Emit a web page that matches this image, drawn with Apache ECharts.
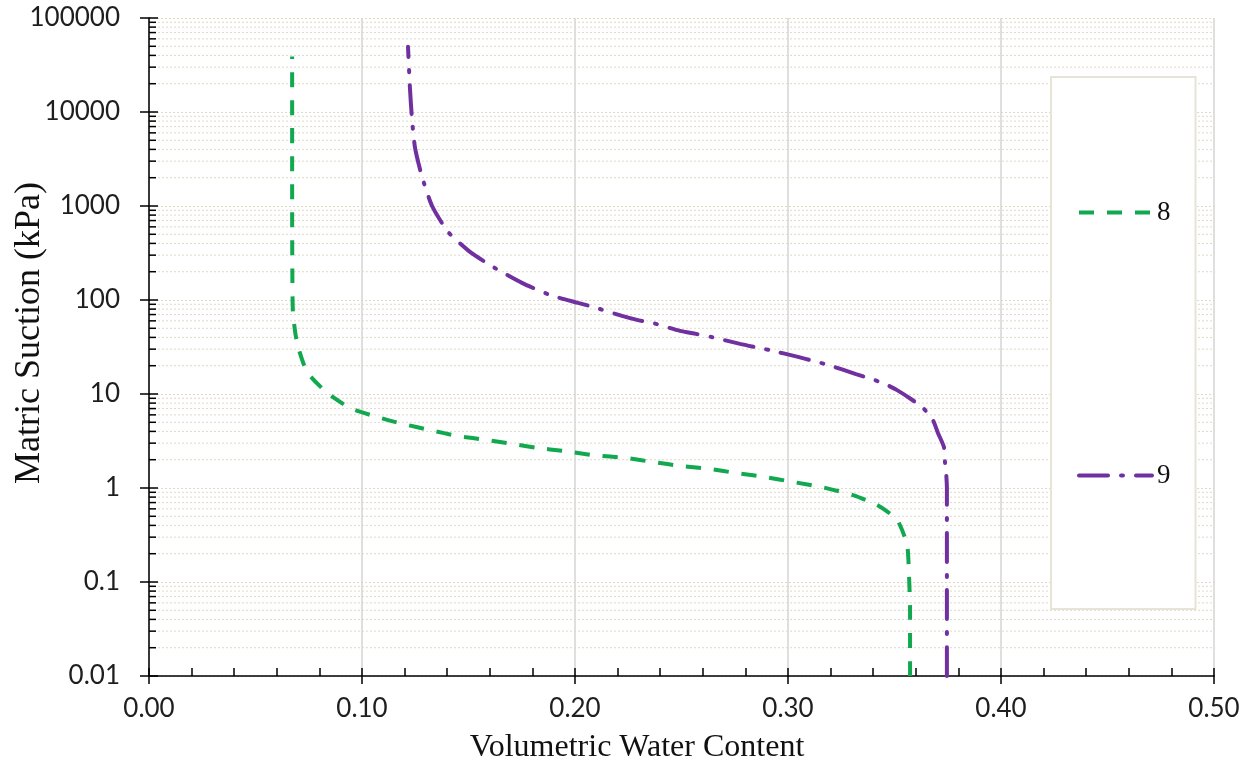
<!DOCTYPE html>
<html>
<head>
<meta charset="utf-8">
<script src="https://cdn.jsdelivr.net/npm/echarts@6/dist/echarts.min.js"></script>
<style>
html,body{margin:0;padding:0;background:#fff;}
#chart{width:1252px;height:767px;}
</style>
</head>
<body>
<div id="chart"></div>
<script>
// ---- data ----
const seriesNames = ['8', '9'];
const wc8  = [0.3573,0.3573,0.3568,0.3559,0.3512,0.3418,0.3305,0.316,0.3023,0.2892,0.276,0.2634,0.2502,0.2366,0.2244,0.2085,0.1944,0.1822,0.1709,0.1587,0.1451,0.1319,0.1192,0.107,0.0944,0.0836,0.0742,0.0695,0.0676,0.0673,0.0672,0.0672,0.0672];
const psi8 = [0.01,0.05,0.12,0.25,0.46,0.66,0.84,1.02,1.16,1.31,1.44,1.59,1.71,1.89,2.08,2.24,2.48,2.67,2.94,3.24,3.57,4.14,4.8,5.7,7.1,10.3,17.2,34.9,72.8,200,1000,10000,39000];
const wc9  = [0.3746,0.3746,0.3746,0.3742,0.3737,0.3732,0.3704,0.368,0.3634,0.3577,0.3512,0.3455,0.339,0.3319,0.3188,0.3117,0.3047,0.2911,0.284,0.2775,0.2638,0.2568,0.2493,0.2362,0.2291,0.2221,0.2085,0.2014,0.1883,0.1751,0.1624,0.1507,0.1404,0.1329,0.1282,0.1249,0.1235,0.1225,0.1216];
const psi9 = [0.01,0.1,1.0,1.5,1.89,2.73,3.85,5.3,7.1,8.85,11.0,12.8,14.5,16.3,20.4,22.5,24.8,29.4,31.7,34.1,40.5,43.6,46.9,57.1,61.4,67.7,84.4,93.1,113,152,219,325,531,1000,2040,4160,8260,18100,49400];
const decades = [0.01, 0.1, 1, 10, 100, 1000, 10000];
const minorMultipliers = [2,3,4,5,6,7,8,9];
const xTitle = 'Volumetric Water Content';
const yTitle = 'Matric Suction (kPa)';

// ---- build ----
const pairs = (xs, ys) => xs.map((x, i) => [x, ys[i]]);
const minorValues = [];
decades.forEach(d => minorMultipliers.forEach(m => minorValues.push([0, +(d * m).toPrecision(3)])));

const chart = echarts.init(document.getElementById('chart'), null, {renderer: 'canvas'});
const GREEN = '#12A84F', PURPLE = '#7030A0';
const GRIDDOT = '#dedac6';
const labelFont = {fontFamily: 'Lato', fontSize: 26, color: '#1e1e1e'};
const yFmt = v => String(Number((+v).toPrecision(3)));

const option = {
  animation: false,
  backgroundColor: '#fff',
  grid: {left: 149, right: 38, top: 18, bottom: 91, containLabel: false},
  xAxis: [{
    type: 'value', min: 0, max: 0.5, interval: 0.1,
    axisLine: {show: true, onZero: false, lineStyle: {color: '#000', width: 1.5}},
    axisTick: {show: true, inside: true, length: 8, lineStyle: {color: '#000', width: 1.5}},
    minorTick: {show: true, splitNumber: 5, length: 8, lineStyle: {color: '#000', width: 1.5}},
    axisLabel: Object.assign({margin: 20, formatter: v => (+v).toFixed(2)}, labelFont),
    splitLine: {show: true, lineStyle: {color: '#d4d4d4', width: 1.5}}
  }, {
    type: 'value', min: 0, max: 0.5, interval: 0.1, position: 'bottom',
    axisLine: {show: false},
    axisTick: {show: true, inside: false, length: 8, lineStyle: {color: '#000', width: 1.5}},
    axisLabel: {show: false}, splitLine: {show: false}
  }],
  yAxis: [{
    type: 'log', logBase: 10, min: 0.01, max: 100000,
    axisLine: {show: true, onZero: false, lineStyle: {color: '#000', width: 1.5}},
    axisTick: {show: true, inside: true, length: 9, lineStyle: {color: '#000', width: 1.5}},
    axisLabel: Object.assign({margin: 29, formatter: yFmt}, labelFont),
    splitLine: {show: true, lineStyle: {color: GRIDDOT, width: 1, type: [2, 2]}}
  }, {
    type: 'log', logBase: 10, min: 0.01, max: 100000, position: 'left', offset: 0,
    axisLine: {show: false},
    axisTick: {show: true, inside: false, length: 9, lineStyle: {color: '#000', width: 1.5}},
    axisLabel: {show: false}, splitLine: {show: false}
  }],
  legend: {
    data: seriesNames,
    orient: 'vertical',
    left: 1051, top: 77,
    padding: [122, 25, 120, 26],
    itemGap: 236,
    itemWidth: 73, itemHeight: 14,
    itemStyle: {opacity: 0},
    lineStyle: {width: 4},
    backgroundColor: '#fff',
    borderColor: '#e6e4d6', borderWidth: 2,
    textStyle: {fontFamily: 'Liberation Serif', fontSize: 27, color: '#111'},
    selectedMode: false
  },
  graphic: [
    {type: 'text', x: 637, y: 748, style: {text: xTitle, font: '32px "Liberation Serif"', fill: '#111', textAlign: 'center', textVerticalAlign: 'middle'}},
    {type: 'text', x: 30, y: 333, rotation: Math.PI / 2, style: {text: yTitle, font: '36px "Liberation Serif"', fill: '#111', textAlign: 'center', textVerticalAlign: 'middle'}}
  ],
  series: [
    {
      name: 'minorGrid', type: 'custom', xAxisIndex: 0, yAxisIndex: 0, z: 1, silent: true,
      clip: false,
      data: minorValues,
      renderItem: (params, api) => {
        const v = api.value(1);
        const p0 = api.coord([0, v]);
        const p1 = api.coord([0.5, v]);
        return {type: 'group', children: [
          {type: 'line', shape: {x1: p0[0] + 1, y1: p0[1], x2: p1[0], y2: p1[1]},
           style: {stroke: GRIDDOT, lineWidth: 1, lineDash: [2, 2]}},
          {type: 'line', shape: {x1: p0[0], y1: p0[1], x2: p0[0] + 7, y2: p0[1]},
           style: {stroke: '#000', lineWidth: 1.5}}
        ]};
      }
    },
    {
      name: seriesNames[0], type: 'line', data: pairs(wc8, psi8), symbol: 'none', smooth: 0.2, z: 5,
      lineStyle: {color: GREEN, width: 4, type: [15, 13], cap: 'butt'},
      itemStyle: {color: GREEN}
    },
    {
      name: seriesNames[1], type: 'line', data: pairs(wc9, psi9), symbol: 'none', smooth: 0.2, z: 5,
      lineStyle: {color: PURPLE, width: 4, type: [29, 13, 2, 13], cap: 'round'},
      itemStyle: {color: PURPLE}
    }
  ]
};
chart.setOption(option);
</script>
</body>
</html>
